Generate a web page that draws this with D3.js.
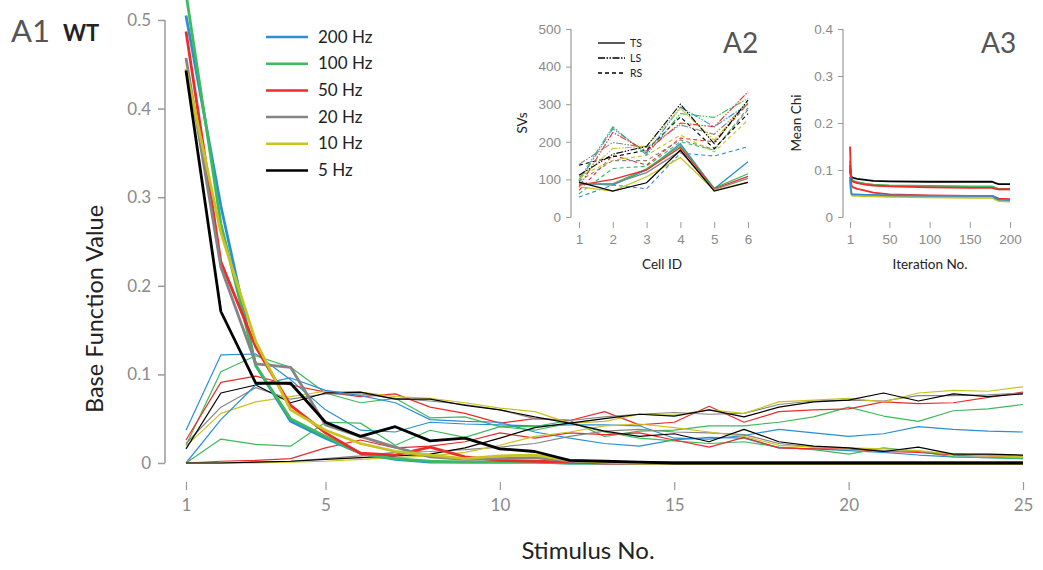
<!DOCTYPE html>
<html>
<head>
<meta charset="utf-8">
<script src="https://cdn.jsdelivr.net/npm/d3@7"></script>
<style>
  html, body { margin: 0; padding: 0; background: #fff; }
  svg { display: block; font-family: Lato, "Open Sans", sans-serif; }
</style>
</head>
<body>
<svg id="chart" width="1043" height="570"></svg>
<script>
// ---------- Panel A1: base function values per stimulus ----------
const stimuli = [1,2,3,4,5,6,7,8,9,10,11,12,13,14,15,16,17,18,19,20,21,22,23,24,25];
const freqLabels = ["200 Hz", "100 Hz", "50 Hz", "20 Hz", "10 Hz", "5 Hz"];
const yTicksA1 = [0, 0.1, 0.2, 0.3, 0.4, 0.5];
const xTicksA1 = [1, 5, 10, 15, 20, 25];

// first base function (dominant, fast decay)
const bf1_200 = [0.505,0.29,0.11,0.047,0.028,0.011,0.004,0.001,0.001,0.001,0.001,0,0,0,0,0,0,0,0,0,0,0,0,0,0];
const bf1_100 = [0.53,0.27,0.11,0.05,0.03,0.011,0.005,0.002,0.001,0.001,0.001,0,0,0,0,0,0,0,0,0,0,0,0,0,0];
const bf1_50  = [0.487,0.227,0.131,0.065,0.034,0.011,0.009,0.018,0.007,0.003,0.002,0.001,0,0,0,0,0,0,0,0,0,0,0,0,0];
const bf1_20  = [0.457,0.221,0.112,0.108,0.043,0.03,0.018,0.007,0.004,0.005,0.006,0.002,0.001,0,0,0,0,0,0,0,0,0,0,0,0];
const bf1_10  = [0.445,0.26,0.137,0.06,0.037,0.022,0.013,0.009,0.005,0.008,0.009,0.003,0.001,0,0,0,0,0,0,0,0,0,0,0,0];
const bf1_5   = [0.443,0.171,0.09,0.09,0.046,0.03,0.041,0.025,0.028,0.016,0.013,0.003,0.002,0.001,0,0,0,0,0,0,0,0,0,0,0];

// second base function (early hump, late rise)
const bf2_200 = [0.037,0.122,0.123,0.094,0.060,0.037,0.035,0.046,0.044,0.043,0.042,0.043,0.043,0.042,0.028,0.027,0.031,0.038,0.034,0.030,0.033,0.041,0.038,0.036,0.035];
const bf2_100 = [0.02,0.103,0.121,0.108,0.079,0.068,0.073,0.051,0.052,0.041,0.041,0.048,0.030,0.036,0.037,0.042,0.042,0.046,0.052,0.063,0.053,0.047,0.059,0.061,0.066];
const bf2_50  = [0.026,0.091,0.098,0.088,0.080,0.075,0.078,0.063,0.056,0.045,0.050,0.048,0.058,0.043,0.046,0.064,0.046,0.058,0.060,0.061,0.069,0.067,0.068,0.074,0.080];
const bf2_20  = [0.022,0.063,0.085,0.072,0.078,0.078,0.073,0.070,0.066,0.060,0.050,0.048,0.052,0.055,0.057,0.055,0.056,0.066,0.070,0.071,0.070,0.076,0.076,0.077,0.079];
const bf2_10  = [0.019,0.056,0.069,0.075,0.081,0.080,0.075,0.073,0.068,0.062,0.058,0.045,0.047,0.055,0.054,0.060,0.056,0.069,0.071,0.073,0.069,0.079,0.082,0.081,0.086];
const bf2_5   = [0.016,0.079,0.088,0.068,0.079,0.080,0.072,0.072,0.065,0.060,0.052,0.045,0.050,0.055,0.053,0.060,0.052,0.063,0.069,0.071,0.079,0.070,0.078,0.075,0.078];

// third base function (late, mid-range hump)
const bf3_200 = [0,0.049,0.088,0.096,0.082,0.076,0.068,0.049,0.047,0.046,0.035,0.028,0.022,0.019,0.026,0.029,0.028,0.017,0.016,0.014,0.012,0.009,0.007,0.006,0.005];
const bf3_100 = [0,0.027,0.021,0.019,0.046,0.045,0.020,0.037,0.029,0.041,0.037,0.045,0.035,0.028,0.025,0.022,0.024,0.018,0.015,0.010,0.017,0.013,0.007,0.006,0.005];
const bf3_50  = [0,0.002,0.003,0.005,0.017,0.026,0.017,0.019,0.024,0.034,0.028,0.034,0.032,0.034,0.026,0.018,0.029,0.017,0.016,0.016,0.013,0.012,0.009,0.008,0.007];
const bf3_20  = [0,0,0.001,0.002,0.005,0.008,0.012,0.013,0.015,0.018,0.022,0.030,0.036,0.038,0.035,0.034,0.032,0.022,0.018,0.017,0.014,0.013,0.010,0.009,0.008];
const bf3_10  = [0,0,0,0.001,0.002,0.004,0.006,0.008,0.012,0.020,0.030,0.035,0.042,0.044,0.040,0.035,0.030,0.020,0.018,0.017,0.016,0.014,0.010,0.008,0.007];
const bf3_5   = [0,0,0.001,0.002,0.004,0.006,0.008,0.010,0.017,0.028,0.040,0.045,0.036,0.030,0.033,0.024,0.038,0.024,0.019,0.017,0.013,0.018,0.010,0.010,0.009];

// ---------- Panel A2: SVs per cell ----------
const cellIds = [1,2,3,4,5,6];
const yTicksA2 = [0,100,200,300,400,500];
const ts_200 = [90,85,125,195,75,147];
const ts_100 = [88,88,128,190,77,115];
const ts_50  = [85,100,125,185,75,108];
const ts_20  = [88,88,118,175,73,103];
const ts_10  = [80,69,107,158,71,93];
const ts_5   = [93,69,91,178,69,92];
const ls_200 = [95,235,170,292,240,300];
const ls_100 = [100,240,165,275,265,315];
const ls_50  = [80,225,175,250,240,333];
const ls_20  = [140,198,185,245,220,300];
const ls_10  = [100,182,188,289,204,308];
const ls_5   = [111,167,188,300,195,311];
const rs_200 = [53,85,75,170,162,187];
const rs_100 = [62,129,135,200,178,290];
const rs_50  = [71,164,138,210,200,302];
const rs_20  = [95,150,150,205,180,285];
const rs_10  = [107,151,164,218,173,258];
const rs_5   = [138,160,178,266,182,275];

// ---------- Panel A3: mean chi over iterations ----------
const iterations = [1,2,3,5,10,20,30,50,100,150,178,182,186,200];
const xTicksA3 = [1,50,100,150,200];
const yTicksA3 = [0,0.1,0.2,0.3,0.4];
const chi_200 = [0.085,0.060,0.049,0.048,0.048,0.047,0.047,0.046,0.045,0.045,0.045,0.040,0.037,0.036];
const chi_100 = [0.120,0.090,0.080,0.077,0.074,0.071,0.069,0.067,0.066,0.065,0.065,0.062,0.060,0.060];
const chi_50  = [0.150,0.100,0.078,0.075,0.072,0.069,0.067,0.065,0.063,0.062,0.062,0.060,0.059,0.059];
const chi_50b = [0.110,0.080,0.066,0.063,0.060,0.056,0.052,0.048,0.046,0.045,0.045,0.042,0.039,0.038];
const chi_20  = [0.110,0.090,0.079,0.076,0.073,0.070,0.068,0.066,0.065,0.064,0.064,0.061,0.059,0.059];
const chi_10  = [0.080,0.055,0.046,0.045,0.045,0.044,0.044,0.043,0.042,0.041,0.041,0.037,0.034,0.033];
const chi_5   = [0.100,0.090,0.085,0.083,0.081,0.079,0.077,0.076,0.075,0.075,0.075,0.072,0.070,0.070];

const colors = ["#2b8fd3", "#3dba5c", "#ee2b2b", "#858585", "#c9c320", "#000000"];

const svg = d3.select("#chart");
const tickGrey = "#8a8a8a";
const axisGrey = "#9a9a9a";

// ===== A1 =====
const xA1 = d3.scaleLinear().domain([1, 25]).range([186, 1023]);
const yA1 = d3.scaleLinear().domain([0, 0.5]).range([463, 20]);

const gA1 = svg.append("g");
// y axis
const yAxisA1 = gA1.append("g").attr("transform", "translate(165,0)")
  .call(d3.axisLeft(yA1).tickValues(yTicksA1).tickFormat(d => d === 0 ? "0" : d3.format(".1f")(d)).tickSize(7).tickPadding(7));
yAxisA1.select(".domain").attr("stroke", axisGrey).attr("stroke-width", 1.5).attr("d", "M0,20V463");
yAxisA1.selectAll(".tick line").attr("stroke", axisGrey).attr("stroke-width", 1.5);
yAxisA1.selectAll("text").attr("fill", tickGrey).style("font-size", "17px").style("font-family", "Lato, sans-serif");
// x axis (ticks only)
const xAxisA1 = gA1.append("g").attr("transform", "translate(0,482)")
  .call(d3.axisBottom(xA1).tickValues(xTicksA1).tickSize(8).tickPadding(9));
xAxisA1.select(".domain").remove();
xAxisA1.selectAll(".tick line").attr("stroke", axisGrey).attr("stroke-width", 1.2);
xAxisA1.selectAll("text").attr("fill", tickGrey).style("font-size", "17px").style("font-family", "Lato, sans-serif");

const lineA1 = d3.line().x((d, i) => xA1(stimuli[i])).y(d => yA1(d));
const thin = [bf2_200, bf2_100, bf2_50, bf2_20, bf2_10, bf2_5, bf3_200, bf3_100, bf3_50, bf3_20, bf3_10, bf3_5];
const thinColors = colors.concat(colors);
gA1.selectAll("path.thin").data(thin).join("path")
  .attr("class", "thin")
  .attr("d", lineA1)
  .attr("fill", "none")
  .attr("stroke", (d, i) => thinColors[i])
  .attr("stroke-width", 1.2)
  .attr("stroke-linejoin", "round");
const thick = [bf1_200, bf1_100, bf1_50, bf1_20, bf1_10, bf1_5];
gA1.selectAll("path.thick").data(thick).join("path")
  .attr("class", "thick")
  .attr("d", lineA1)
  .attr("fill", "none")
  .attr("stroke", (d, i) => colors[i])
  .attr("stroke-width", 2.8)
  .attr("stroke-linejoin", "round");

// axis titles
svg.append("text").attr("x", 588).attr("y", 559).attr("text-anchor", "middle")
  .style("font-size", "24px").attr("fill", "#222").text("Stimulus No.");
svg.append("text").attr("transform", "translate(103,309) rotate(-90)").attr("text-anchor", "middle")
  .style("font-size", "23.5px").attr("fill", "#222").text("Base Function Value");

// panel tag
svg.append("text").attr("x", 11).attr("y", 42).style("font-size", "31px").attr("fill", "#555").text("A1");
svg.append("text").attr("x", 63).attr("y", 41).style("font-size", "22px").style("font-weight", "bold").attr("fill", "#222").text("WT");

// legend
const legA1 = svg.append("g");
freqLabels.forEach((lab, i) => {
  const yy = 37 + i * 26.7;
  legA1.append("line").attr("x1", 266).attr("x2", 308).attr("y1", yy).attr("y2", yy)
    .attr("stroke", colors[i]).attr("stroke-width", 2.5);
  legA1.append("text").attr("x", 318).attr("y", yy + 5.5).style("font-size", "17px").attr("fill", "#222").text(lab);
});

// ===== A2 =====
const xA2 = d3.scaleLinear().domain([1, 6]).range([579, 748]);
const yA2 = d3.scaleLinear().domain([0, 500]).range([217, 29]);
const gA2 = svg.append("g");
const yAxA2 = gA2.append("g").attr("transform", "translate(571,0)")
  .call(d3.axisLeft(yA2).tickValues(yTicksA2).tickSize(5).tickPadding(5));
yAxA2.select(".domain").attr("stroke", axisGrey).attr("stroke-width", 1.2).attr("d", "M0,29V217");
yAxA2.selectAll(".tick line").attr("stroke", axisGrey);
yAxA2.selectAll("text").attr("fill", tickGrey).style("font-size", "13.5px");
const xAxA2 = gA2.append("g").attr("transform", "translate(0,222)")
  .call(d3.axisBottom(xA2).tickValues(cellIds).tickFormat(d3.format("d")).tickSize(6).tickPadding(6));
xAxA2.select(".domain").remove();
xAxA2.selectAll(".tick line").attr("stroke", axisGrey);
xAxA2.selectAll("text").attr("fill", tickGrey).style("font-size", "13.5px");

const lineA2 = d3.line().x((d, i) => xA2(cellIds[i])).y(d => yA2(d));
const rsSet = [rs_200, rs_100, rs_50, rs_20, rs_10, rs_5];
const lsSet = [ls_200, ls_100, ls_50, ls_20, ls_10, ls_5];
const tsSet = [ts_200, ts_100, ts_50, ts_20, ts_10, ts_5];
gA2.selectAll("path.rs").data(rsSet).join("path").attr("class", "rs")
  .attr("d", lineA2).attr("fill", "none").attr("stroke", (d, i) => colors[i])
  .attr("stroke-width", 1.1).attr("stroke-dasharray", "4,3");
gA2.selectAll("path.ls").data(lsSet).join("path").attr("class", "ls")
  .attr("d", lineA2).attr("fill", "none").attr("stroke", (d, i) => colors[i])
  .attr("stroke-width", 1.1).attr("stroke-dasharray", "7,1.5,1.5,1.5,1.5,1.5");
gA2.selectAll("path.ts").data(tsSet).join("path").attr("class", "ts")
  .attr("d", lineA2).attr("fill", "none").attr("stroke", (d, i) => colors[i])
  .attr("stroke-width", 1.3);

svg.append("text").attr("x", 662).attr("y", 269).attr("text-anchor", "middle")
  .style("font-size", "13.5px").attr("fill", "#222").text("Cell ID");
svg.append("text").attr("transform", "translate(527,123) rotate(-90)").attr("text-anchor", "middle")
  .style("font-size", "13.5px").attr("fill", "#222").text("SVs");
svg.append("text").attr("x", 723).attr("y", 53).style("font-size", "28px").attr("fill", "#555").text("A2");

const legA2 = [["TS", null], ["LS", "7,1.5,1.5,1.5,1.5,1.5"], ["RS", "4,3"]];
legA2.forEach((e, i) => {
  const yy = 43 + i * 15;
  svg.append("line").attr("x1", 598).attr("x2", 625).attr("y1", yy).attr("y2", yy)
    .attr("stroke", "#000").attr("stroke-width", 1.3)
    .attr("stroke-dasharray", e[1]);
  svg.append("text").attr("x", 630).attr("y", yy + 4).style("font-size", "10.5px").attr("fill", "#222").text(e[0]);
});

// ===== A3 =====
const xA3 = d3.scaleLinear().domain([1, 200]).range([850, 1010]);
const yA3 = d3.scaleLinear().domain([0, 0.4]).range([217, 29]);
const gA3 = svg.append("g");
const yAxA3 = gA3.append("g").attr("transform", "translate(843,0)")
  .call(d3.axisLeft(yA3).tickValues(yTicksA3).tickFormat(d => d === 0 ? "0" : d3.format(".1f")(d)).tickSize(5).tickPadding(5));
yAxA3.select(".domain").attr("stroke", axisGrey).attr("stroke-width", 1.2).attr("d", "M0,29V217");
yAxA3.selectAll(".tick line").attr("stroke", axisGrey);
yAxA3.selectAll("text").attr("fill", tickGrey).style("font-size", "13.5px");
const xAxA3 = gA3.append("g").attr("transform", "translate(0,222)")
  .call(d3.axisBottom(xA3).tickValues(xTicksA3).tickSize(6).tickPadding(6));
xAxA3.select(".domain").remove();
xAxA3.selectAll(".tick line").attr("stroke", axisGrey);
xAxA3.selectAll("text").attr("fill", tickGrey).style("font-size", "13.5px");

const lineA3 = d3.line().x((d, i) => xA3(iterations[i])).y(d => yA3(d));
const chiSet = [chi_20, chi_5, chi_100, chi_50, chi_50b, chi_10, chi_200];
const chiColors = [colors[3], colors[5], colors[1], colors[2], colors[2], colors[4], colors[0]];
gA3.selectAll("path.chi").data(chiSet).join("path").attr("class", "chi")
  .attr("d", lineA3).attr("fill", "none").attr("stroke", (d, i) => chiColors[i])
  .attr("stroke-width", 1.8).attr("stroke-linejoin", "round");

svg.append("text").attr("x", 930).attr("y", 269).attr("text-anchor", "middle")
  .style("font-size", "13.5px").attr("fill", "#222").text("Iteration No.");
svg.append("text").attr("transform", "translate(801,123) rotate(-90)").attr("text-anchor", "middle")
  .style("font-size", "13.5px").attr("fill", "#222").text("Mean Chi");
svg.append("text").attr("x", 981).attr("y", 53).style("font-size", "28px").attr("fill", "#555").text("A3");
</script>
</body>
</html>
